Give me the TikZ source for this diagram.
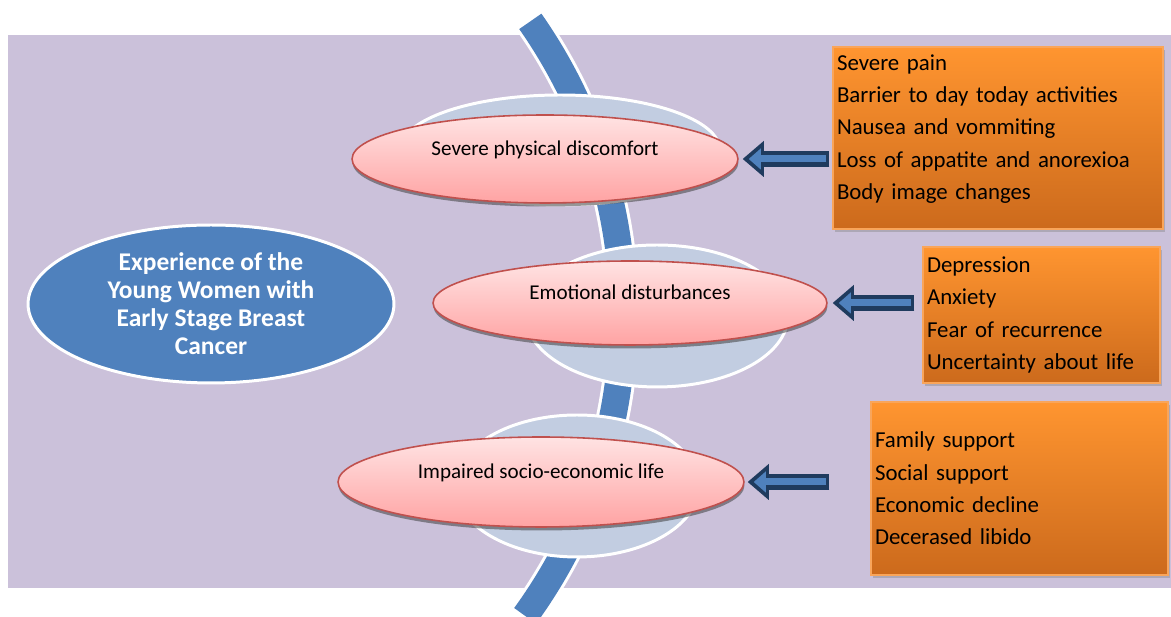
\documentclass[tikz,border=0pt]{standalone}
\usepackage{fontspec}
\setmainfont{Carlito}
\usetikzlibrary{arrows.meta, shapes.geometric, shadows}

\definecolor{lavender}{HTML}{CBC1DA}
\definecolor{bandblue}{HTML}{4F81BD}
\definecolor{paleblue}{HTML}{C2CDE1}
\definecolor{pinkline}{HTML}{C0504D}
\definecolor{pinktop}{HTML}{FFE3E3}
\definecolor{pinkbot}{HTML}{FFA3A3}
\definecolor{orangetop}{HTML}{FF9530}
\definecolor{orangebot}{HTML}{CC6A1C}
\definecolor{orangeline}{HTML}{F9A55A}
\definecolor{navy}{HTML}{1F3B5E}

\begin{document}
\begin{tikzpicture}[x=0.02cm, y=0.02cm]
	\tikzset{band/.style={draw=bandblue, line width=0.54cm, preaction={draw=white, line width=0.66cm}},
		halo/.style={ellipse, draw=white, line width=1.7pt, fill=paleblue, inner sep=0pt},
		core/.style={ellipse, draw=white, line width=1.7pt, fill=bandblue, text=white, inner sep=0pt, align=center, font=\bfseries\fontsize{14.5}{16}\selectfont},
		theme/.style={ellipse, draw=pinkline, line width=0.9pt, top color=pinktop, bottom color=pinkbot, inner sep=0pt, text height=0.3cm, text depth=0.42cm, font=\fontsize{12}{14}\selectfont, drop shadow={shadow xshift=0.01cm, shadow yshift=-0.07cm, opacity=0.55, fill=black!75}},
		list/.style={rectangle, draw=orangeline, line width=0.8pt, top color=orangetop, bottom color=orangebot, inner xsep=0.08cm, inner ysep=0pt, align=left, font=\fontsize{13}{18.4}\selectfont, drop shadow={shadow xshift=0.04cm, shadow yshift=-0.06cm, opacity=0.4}},
		push/.style={navy, line width=0.32cm, -{Triangle[length=0.42cm 0, width=0.72cm 0, line width=0pt]}},
		pushin/.style={bandblue, line width=0.14cm, -{Triangle[length=0.24cm 0, width=0.42cm 0, line width=0pt]}} }
	
	\useasboundingbox (0,0) rectangle (1171,617);
	\fill[lavender] (8,29) rectangle (1171,582);
	
	% curved band behind the themes
	\draw[band] (111,302) ++(-36:10.24cm) arc[start angle=-36, end angle=35, radius=10.24cm];
	
	\node[halo, minimum width=6.4cm, minimum height=2.2cm] (h1) at (560,467) {};
	\node[halo, minimum width=5.24cm, minimum height=2.84cm] (h2) at (657,301) {};
	\node[halo, minimum width=4.88cm, minimum height=2.84cm] (h3) at (577,131) {};
	
	\node[core, minimum width=7.32cm, minimum height=3.16cm] (0) at (211,313) {Experience of the\\Young Women with\\Early Stage Breast\\Cancer};
	
	\node[theme, minimum width=7.72cm, minimum height=1.76cm] (1) at (545,458) {Severe physical discomfort};
	\node[theme, minimum width=7.88cm, minimum height=1.68cm] (2) at (630,314) {Emotional disturbances};
	\node[theme, minimum width=8.12cm, minimum height=1.8cm] (3) at (541,135) {Impaired socio-economic life};
	
	\node[list, text width=6.44cm, minimum height=3.64cm] (b1) at (998,479) {Severe pain\\Barrier to day today activities\\Nausea and vommiting\\Loss of appatite and anorexioa\\Body image changes\\[-0.2cm]~};
	\node[list, text width=4.58cm, minimum height=2.72cm] (b2) at (1041.5,302) {Depression\\Anxiety\\Fear of recurrence\\Uncertainty about life};
	\node[list, text width=5.78cm, minimum height=3.46cm] (b3) at (1019.5,128.5) {Family support\\Social support\\Economic decline\\Decerased libido};
	
	% hollow arrows from the lists to the themes
	\draw[push, shorten <=0.06cm, shorten >=0.08cm] (b1.west |- 1.east) -- (1.east);
	\draw[pushin, shorten <=0.12cm, shorten >=0.2cm] (b1.west |- 1.east) -- (1.east);
	\draw[push, shorten <=0.16cm, shorten >=0.1cm] (b2.west |- 2.east) -- (2.east);
	\draw[pushin, shorten <=0.22cm, shorten >=0.22cm] (b2.west |- 2.east) -- (2.east);
	\draw[push, shorten <=0.82cm, shorten >=0.06cm] (b3.west |- 3.east) -- (3.east);
	\draw[pushin, shorten <=0.88cm, shorten >=0.18cm] (b3.west |- 3.east) -- (3.east);
\end{tikzpicture}
\end{document}
